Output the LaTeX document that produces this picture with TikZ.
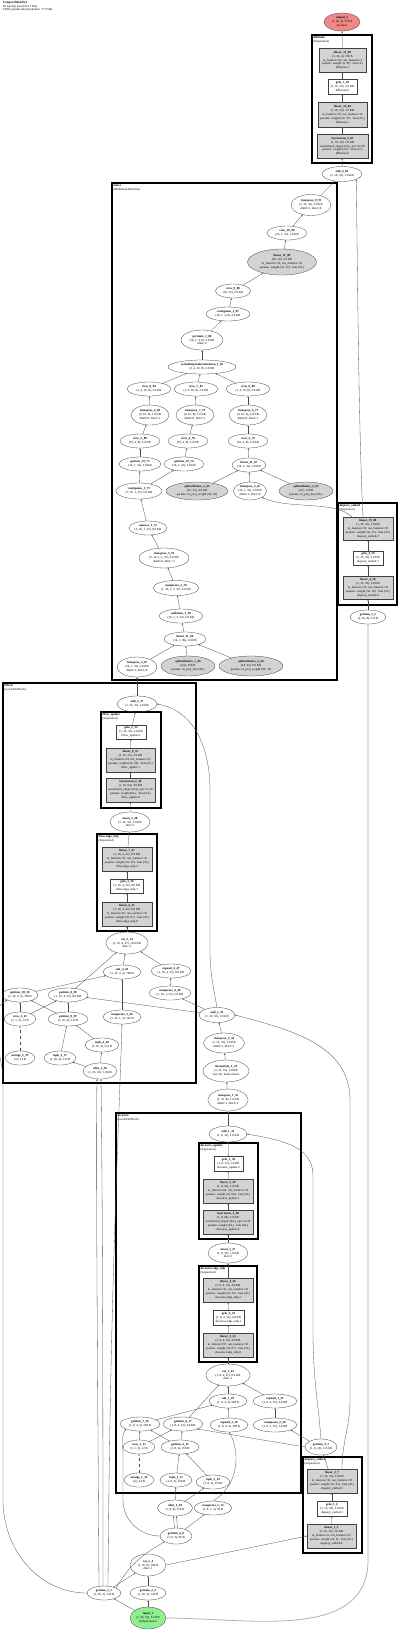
\documentclass[tikz,border=0pt]{standalone}
\usepackage{fontspec}
\setmainfont{Liberation Serif}
\usetikzlibrary{shapes.geometric,arrows.meta}
\newcommand{\fs}{\fontsize{3.1}{3.9}\selectfont}
\newcommand{\fsc}{\fontsize{3.1}{3.5}\selectfont}
\definecolor{lg}{RGB}{211,211,211}
\definecolor{outred}{RGB}{242,135,135}
\definecolor{ingreen}{RGB}{144,238,144}
\begin{document}
\begin{tikzpicture}[x=1pt,y=-1pt,
 every node/.style={font=\fs, align=center, inner sep=0pt, outer sep=0pt},
 el/.style 2 args={ellipse, draw=black!75, line width=0.3pt, minimum width=#1pt, minimum height=#2pt},
 gel/.style 2 args={el={#1}{#2}, fill=lg},
 bx/.style 2 args={rectangle, draw=black!75, line width=0.3pt, minimum width=#1pt, minimum height=#2pt, fill=white},
 gbx/.style 2 args={bx={#1}{#2}, fill=lg},
 cl/.style={draw=black, line width=1.1pt},
 cll/.style={anchor=north west, align=left, font=\fsc},
 e/.style={draw=black!70, line width=0.3pt, -{Stealth[length=1.8pt,width=1.4pt]}},
]
\useasboundingbox (0,0) rectangle (400,1631);
\fill[white] (0,0) rectangle (400,1631);
\node[cll] (hdr) at (3,1.5) {\textbf{CompactModelV2}\\56 layer(s) total (214.7 kB)\\19932 params total (trainable: 77.9 kB)};

% ---------- clusters ----------
\draw[cl] (312,35) rectangle (372,163);
\node[cll] (cdiff) at (313.5,36.5) {\textbf{diffusion}\\(Sequential)};
\draw[cl] (112,183) rectangle (337,680);
\node[cll] (cmix) at (113.5,184.5) {\textbf{mixer}\\(MultiheadAttention)};
\draw[cl] (338,503) rectangle (397,605);
\node[cll] (cdq) at (339.5,504.5) {\textbf{diquery\_embed}\\(Sequential)};
\draw[cl] (3,683) rectangle (196,1083);
\node[cll] (ctb) at (4.5,684.5) {\textbf{tblock}\\(LocalPairBlock)};
\draw[cl] (101,712) rectangle (161,808);
\node[cll] (ctu) at (102.5,713.5) {\textbf{tflow\_update}\\(Sequential)};
\draw[cl] (97,834) rectangle (157,931);
\node[cll] (cte) at (98.5,835.5) {\textbf{tflow.edge\_mlp}\\(Sequential)};
\draw[cl] (116,1113) rectangle (301,1493);
\node[cll] (cds) at (117.5,1114.5) {\textbf{dscoarse}\\(LocalPairBlock)};
\draw[cl] (199,1143) rectangle (258,1239);
\node[cll] (cdu) at (200.5,1144.5) {\textbf{dscoarse\_update}\\(Sequential)};
\draw[cl] (199,1266) rectangle (257,1362);
\node[cll] (cde) at (200.5,1267.5) {\textbf{dscoarse.edge\_mlp}\\(Sequential)};
\draw[cl] (303,1457) rectangle (362,1553);
\node[cll] (cdsq) at (304.5,1458.5) {\textbf{dsquery\_embed}\\(Sequential)};

% ---------- top ----------
\node[el={36}{18}, fill=outred] (out) at (342,22) {\textbf{output\_1}\\(1, 16, 4), 256 B\\@output};
\node[gbx={47}{24}] (l1590) at (342.5,60) {\textbf{linear\_15\_90}\\(1, 16, 4), 256 B\\in\_features=32, out\_features=4\\params: weight (4, 32) · bias (4,)\\diffusion.3};
\node[bx={29}{15}] (g785) at (342.5,86.5) {\textbf{gelu\_7\_85}\\(1, 16, 32), 2.0 KB\\diffusion.2};
\node[gbx={49}{25}] (l1484) at (342.5,114.5) {\textbf{linear\_14\_84}\\(1, 16, 32), 2.0 KB\\in\_features=32, out\_features=32\\params: weight (32, 32) · bias (32,)\\diffusion.1};
\node[gbx={51}{24}] (ln383) at (342.5,146) {\textbf{layernorm\_3\_83}\\(1, 16, 32), 2.0 KB\\normalized\_shape=(32,), eps=1e-05\\params: weight (32,) · bias (32,)\\diffusion.0};
\node[el={40}{15}] (a481) at (342,174) {\textbf{add\_4\_81}\\(1, 16, 32), 2.0 KB};

% ---------- mixer ----------
\node[el={40}{21}] (t991) at (311,205) {\textbf{transpose\_9\_91}\\(1, 16, 32), 2.0 KB\\dim0=1, dim1=0};
\node[el={40}{14}] (v1090) at (287,233) {\textbf{view\_10\_90}\\(16, 1, 32), 2.0 KB};
\node[gel={69}{26}] (l1189) at (282,262) {\textbf{linear\_11\_89}\\(16, 32), 2.0 KB\\in\_features=32, out\_features=32\\params: weight (32, 32) · bias (32,)};
\node[el={35}{14}] (v988) at (233,291) {\textbf{view\_9\_88}\\(16, 32), 2.0 KB};
\node[el={44}{14}] (c287) at (228,314) {\textbf{contiguous\_2\_87}\\(16, 1, 4, 8), 2.0 KB};
\node[el={42}{20}] (p186) at (202,340) {\textbf{permute\_1\_86}\\(16, 1, 4, 8), 2.0 KB\\dims=2};
\node[el={68}{14}] (sdpa) at (202,367) {\textbf{scaleddotproductattention\_1\_85}\\(1, 4, 16, 8), 2.0 KB};
\node[el={44}{14}] (v884) at (149,389) {\textbf{view\_8\_84}\\(1, 4, 16, 8), 2.0 KB};
\node[el={44}{14}] (v781) at (196,389) {\textbf{view\_7\_81}\\(1, 4, 16, 8), 2.0 KB};
\node[el={44}{14}] (v680) at (248,389) {\textbf{view\_6\_80}\\(1, 4, 16, 8), 2.0 KB};
\node[el={38}{20}] (t683) at (150,415) {\textbf{transpose\_6\_83}\\(4, 16, 8), 2.0 KB\\dim0=0, dim1=1};
\node[el={38}{20}] (t779) at (195,415) {\textbf{transpose\_7\_79}\\(4, 16, 8), 2.0 KB\\dim0=0, dim1=1};
\node[el={38}{20}] (t677) at (248,415) {\textbf{transpose\_6\_77}\\(4, 16, 8), 2.0 KB\\dim0=0, dim1=1};
\node[el={40}{14}] (v580) at (140,441) {\textbf{view\_5\_80}\\(16, 4, 8), 2.0 KB};
\node[el={40}{14}] (v478) at (188,441) {\textbf{view\_4\_78}\\(16, 4, 8), 2.0 KB};
\node[el={40}{14}] (v376) at (248,441) {\textbf{view\_3\_76}\\(16, 4, 8), 2.0 KB};
\node[el={42}{14}] (g3375) at (140,464) {\textbf{getitem\_33\_75}\\(16, 1, 32), 2.0 KB};
\node[el={40}{14}] (g3274) at (184,464) {\textbf{getitem\_32\_74}\\(16, 1, 32), 2.0 KB};
\node[el={34}{14}] (l1167) at (249,465) {\textbf{linear\_11\_67}\\(16, 1, 32), 2.0 KB};
\node[el={46}{16}] (c173) at (139,491) {\textbf{contiguous\_1\_73}\\(3, 16, 1, 32), 6.0 KB};
\node[gel={62}{18}] (sw163) at (197,491) {\textbf{splitwithsizes\_1\_63}\\(32, 32), 4.0 KB\\params: in\_proj\_weight (96, 32)};
\node[el={33}{18}] (t265) at (250,491) {\textbf{transpose\_2\_65}\\(16, 1, 32), 2.0 KB\\dim0=1, dim1=0};
\node[gel={54}{18}] (sw265) at (306,491) {\textbf{splitwithsizes\_2\_65}\\(32,), 128 B\\params: in\_proj\_bias (96,)};
\node[el={38}{14}] (sq172) at (148,528) {\textbf{squeeze\_1\_72}\\(3, 16, 1, 32), 6.0 KB};
\node[el={50}{20}] (t376) at (164,558) {\textbf{transpose\_3\_76}\\(3, 16, 1, 1, 32), 6.0 KB\\dim0=0, dim1=-2};
\node[el={46}{15}] (u270) at (176,588) {\textbf{unsqueeze\_2\_70}\\(1, 16, 1, 3, 32), 6.0 KB};
\node[el={44}{14}] (uf169) at (181,616) {\textbf{unflatten\_1\_69}\\(16, 1, 3, 32), 6.0 KB};
\node[el={42}{14}] (l1166) at (185,639) {\textbf{linear\_11\_66}\\(16, 1, 96), 6.0 KB};
\node[el={40}{20}] (t467) at (137,667) {\textbf{transpose\_4\_67}\\(16, 1, 32), 2.0 KB\\dim0=1, dim1=0};
\node[gel={54}{20}] (sw166) at (188,666) {\textbf{splitwithsizes\_1\_66}\\(64,), 256 B\\params: in\_proj\_bias (96,)};
\node[gel={64}{20}] (sw264) at (251,666) {\textbf{splitwithsizes\_2\_64}\\(64, 32), 8.0 KB\\params: in\_proj\_weight (96, 32)};

% ---------- diquery_embed ----------
\node[gbx={50}{23}] (l1988) at (368,528.5) {\textbf{linear\_19\_88}\\(1, 16, 32), 2.0 KB\\in\_features=32, out\_features=32\\params: weight (32, 32) · bias (32,)\\diquery\_embed.2};
\node[bx={30}{14}] (g459) at (368,558) {\textbf{gelu\_4\_59}\\(1, 16, 32), 2.0 KB\\diquery\_embed.1};
\node[gbx={50}{23}] (l458) at (368,588) {\textbf{linear\_4\_58}\\(1, 16, 32), 2.0 KB\\in\_features=16, out\_features=32\\params: weight (32, 16) · bias (32,)\\diquery\_embed.0};
\node[el={36}{14}] (g15) at (368,617) {\textbf{getitem\_1\_5}\\(1, 16, 8), 512 B};

% ---------- tblock ----------
\node[el={40}{16}] (a337) at (137,704) {\textbf{add\_3\_37}\\(1, 16, 32), 2.0 KB};
\node[bx={30}{14}] (g232) at (131,732) {\textbf{gelu\_2\_32}\\(1, 16, 32), 2.0 KB\\tflow\_update.2};
\node[gbx={49}{24}] (l631) at (130.5,760) {\textbf{linear\_6\_31}\\(1, 16, 32), 2.0 KB\\in\_features=64, out\_features=32\\params: weight (32, 64) · bias (32,)\\tflow\_update.1};
\node[gbx={49}{24}] (ln230) at (130.5,790) {\textbf{layernorm\_2\_30}\\(1, 16, 64), 4.0 KB\\normalized\_shape=(64,), eps=1e-05\\params: weight (64,) · bias (64,)\\tflow\_update.0};
\node[el={40}{20}] (m228) at (130,822) {\textbf{mean\_2\_28}\\(1, 16, 32), 2.0 KB\\dim=2};
\node[gbx={50}{24}] (l727) at (127,859) {\textbf{linear\_7\_27}\\(1, 16, 4, 32), 8.0 KB\\in\_features=32, out\_features=32\\params: weight (32, 32) · bias (32,)\\tflow.edge\_mlp.2};
\node[bx={33}{14}] (g326) at (127,886) {\textbf{gelu\_3\_26}\\(1, 16, 4, 32), 8.0 KB\\tflow.edge\_mlp.1};
\node[gbx={50}{24}] (l625) at (127,914) {\textbf{linear\_6\_25}\\(1, 16, 4, 32), 8.0 KB\\in\_features=67, out\_features=32\\params: weight (32, 67) · bias (32,)\\tflow.edge\_mlp.0};
\node[el={42}{22}] (c224) at (127,943) {\textbf{cat\_2\_24}\\(1, 16, 4, 67), 16.8 KB\\dim=-1};
\node[el={38}{14}] (s443) at (122,972) {\textbf{sub\_4\_43}\\(1, 16, 4, 3), 768 B};
\node[el={40}{14}] (e447) at (171,971) {\textbf{expand\_4\_47}\\(1, 16, 4, 32), 8.0 KB};
\node[el={36}{14}] (g1036) at (20,995) {\textbf{getitem\_10\_36}\\(1, 16, 4, 3), 768 B};
\node[el={40}{14}] (g838) at (68,995) {\textbf{getitem\_8\_38}\\(1, 16, 4, 32), 8.0 KB};
\node[el={42}{14}] (u446) at (170,993) {\textbf{unsqueeze\_4\_46}\\(1, 16, 1, 32), 2.0 KB};
\node[el={32}{14}] (v241) at (20,1019) {\textbf{view\_2\_41}\\(1, 1, 3), 12 B};
\node[el={40}{14}] (g939) at (68,1019) {\textbf{getitem\_9\_39}\\(1, 16, 4), 512 B};
\node[el={38}{14}] (u344) at (122,1017) {\textbf{unsqueeze\_3\_44}\\(1, 16, 1, 3), 192 B};
\node[el={30}{14}] (ar233) at (20,1058) {\textbf{arange\_2\_33}\\(3,), 24 B};
\node[el={32}{14}] (tk337) at (60,1058) {\textbf{topk\_3\_37}\\(1, 16, 4), 512 B};
\node[el={34}{14}] (tk440) at (102,1045) {\textbf{topk\_4\_40}\\(1, 16, 4), 512 B};
\node[el={34}{16}] (cd236) at (100,1071) {\textbf{cdist\_2\_36}\\(1, 16, 16), 1.0 KB};

% ---------- middle ----------
\node[el={36}{15}] (a235) at (217,1015) {\textbf{add\_2\_35}\\(1, 16, 32), 2.0 KB};
\node[el={41}{20}] (t234) at (224,1043) {\textbf{transpose\_2\_34}\\(1, 16, 32), 2.0 KB\\dim0=1, dim1=2};
\node[el={46}{22}] (ip133) at (226,1071) {\textbf{interpolate\_1\_33}\\(1, 32, 16), 2.0 KB\\size=16, mode=linear};
\node[el={40}{22}] (t132) at (228,1100) {\textbf{transpose\_1\_32}\\(1, 32, 8), 1.0 KB\\dim0=1, dim1=2};

% ---------- dscoarse ----------
\node[el={38}{16}] (a131) at (228,1134) {\textbf{add\_1\_31}\\(1, 8, 32), 1.0 KB};
\node[bx={29}{15}] (g330) at (228.5,1163.5) {\textbf{gelu\_3\_30}\\(1, 8, 32), 1.0 KB\\dscoarse\_update.2};
\node[gbx={50}{24}] (l529) at (228,1191) {\textbf{linear\_5\_29}\\(1, 8, 32), 1.0 KB\\in\_features=64, out\_features=32\\params: weight (32, 64) · bias (32,)\\dscoarse\_update.1};
\node[gbx={50}{24}] (ln128) at (228,1222) {\textbf{layernorm\_1\_28}\\(1, 8, 64), 2.0 KB\\normalized\_shape=(64,), eps=1e-05\\params: weight (64,) · bias (64,)\\dscoarse\_update.0};
\node[el={40}{20}] (m127) at (228,1253) {\textbf{mean\_1\_27}\\(1, 8, 32), 1.0 KB\\dim=2};
\node[gbx={50}{24}] (l426) at (228,1290) {\textbf{linear\_4\_26}\\(1, 8, 4, 32), 4.0 KB\\in\_features=32, out\_features=32\\params: weight (32, 32) · bias (32,)\\dscoarse.edge\_mlp.2};
\node[bx={31}{15}] (g225) at (228.5,1317.5) {\textbf{gelu\_2\_25}\\(1, 8, 4, 32), 4.0 KB\\dscoarse.edge\_mlp.1};
\node[gbx={50}{24}] (l324) at (228,1345) {\textbf{linear\_3\_24}\\(1, 8, 4, 32), 4.0 KB\\in\_features=67, out\_features=32\\params: weight (32, 67) · bias (32,)\\dscoarse.edge\_mlp.0};
\node[el={44}{22}] (c123) at (228,1375) {\textbf{cat\_1\_23}\\(1, 8, 4, 67), 8.4 KB\\dim=-1};
\node[el={38}{14}] (s122) at (228,1401) {\textbf{sub\_1\_22}\\(1, 8, 4, 3), 384 B};
\node[el={44}{14}] (e121) at (275,1401) {\textbf{expand\_1\_21}\\(1, 8, 4, 32), 4.0 KB};
\node[el={40}{14}] (g716) at (140,1424) {\textbf{getitem\_7\_16}\\(1, 8, 4, 3), 384 B};
\node[el={40}{14}] (g817) at (183,1424) {\textbf{getitem\_8\_17}\\(1, 8, 4, 32), 4.0 KB};
\node[el={38}{14}] (e219) at (229,1425) {\textbf{expand\_2\_19}\\(1, 8, 4, 3), 384 B};
\node[el={44}{14}] (u220) at (275,1425) {\textbf{unsqueeze\_2\_20}\\(1, 8, 1, 32), 1.0 KB};
\node[el={32}{14}] (v115) at (139,1447) {\textbf{view\_1\_15}\\(1, 1, 3), 12 B};
\node[el={38}{14}] (g615) at (180,1447) {\textbf{getitem\_6\_15}\\(1, 8, 4), 256 B};
\node[el={30}{14}] (ar114) at (139,1480) {\textbf{arange\_1\_14}\\(3,), 24 B};
\node[el={32}{14}] (tk111) at (176,1480) {\textbf{topk\_1\_11}\\(1, 8, 4), 256 B};
\node[el={34}{14}] (tk212) at (213,1482) {\textbf{topk\_2\_12}\\(1, 8, 4), 256 B};
\node[el={32}{16}] (g33) at (321,1447) {\textbf{getitem\_3\_3}\\(1, 8, 32), 1.0 KB};
\node[gbx={50}{24}] (l27) at (332,1481) {\textbf{linear\_2\_7}\\(1, 16, 32), 2.0 KB\\in\_features=32, out\_features=32\\params: weight (32, 32) · bias (32,)\\dsquery\_embed.2};
\node[bx={30}{15}] (g16) at (332,1508.5) {\textbf{gelu\_1\_6}\\(1, 16, 32), 2.0 KB\\dsquery\_embed.1};
\node[gbx={49}{24}] (l15) at (331.5,1536) {\textbf{linear\_1\_5}\\(1, 16, 32), 2.0 KB\\in\_features=6, out\_features=32\\params: weight (32, 6) · bias (32,)\\dsquery\_embed.0};

% ---------- bottom ----------
\node[el={35}{16}] (cd110) at (175,1508) {\textbf{cdist\_1\_10}\\(1, 8, 8), 256 B};
\node[el={38}{14}] (u113) at (213,1508) {\textbf{unsqueeze\_1\_13}\\(1, 8, 1, 3), 96 B};
\node[el={32}{16}] (g49) at (176,1536) {\textbf{getitem\_4\_9}\\(1, 8, 3), 96 B};
\node[el={36}{22}] (c14) at (148,1565) {\textbf{cat\_1\_4}\\(1, 16, 6), 384 B\\dim=-1};
\node[el={36}{14}] (g22) at (148,1593) {\textbf{getitem\_2\_2}\\(1, 16, 3), 192 B};
\node[el={34}{14}] (g11) at (104,1593) {\textbf{getitem\_1\_1}\\(1, 16, 3), 192 B};
\node[el={36}{22}, fill=ingreen] (in1) at (148,1618) {\textbf{input\_1}\\(1, 16, 51), 3.2 KB\\@input-tensor};

% ---------- edges: top ----------
\draw[e] (l1590) -- (out);
\draw[e] (g785) -- (l1590);
\draw[e] (l1484) -- (g785);
\draw[e] (ln383) -- (l1484);
\draw[e] (a481) -- (ln383);
\draw[e] (t991) -- (a481);
\draw[e] ([xshift=-5pt]l1988.north) .. controls (358,420) and (357,200) .. (a481.south east);
\draw[e] ([xshift=-16pt]l1988.north) .. controls (335,500) and (290,510) .. (t265.south east);
% mixer
\draw[e] (v1090) -- (t991);
\draw[e] (l1189) -- (v1090);
\draw[e] (v988) -- (l1189);
\draw[e] (c287) -- (v988);
\draw[e] (p186) -- (c287);
\draw[e] (sdpa) -- (p186);
\draw[e] (v884) -- (sdpa);
\draw[e] (v781) -- (sdpa);
\draw[e] (v680) -- (sdpa);
\draw[e] (t683) -- (v884);
\draw[e] (t779) -- (v781);
\draw[e] (t677) -- (v680);
\draw[e] (v580) -- (t683);
\draw[e] (v478) -- (t779);
\draw[e] (v376) -- (t677);
\draw[e] (g3375) -- (v580);
\draw[e] (g3274) -- (v478);
\draw[e] (l1167) -- (v376);
\draw[e] (sw163) -- (l1167);
\draw[e] (t265) -- (l1167);
\draw[e] (sw265) -- (l1167);
\draw[e] (c173) -- (g3375);
\draw[e] (c173) -- (g3274);
\draw[e] (sq172) -- (c173);
\draw[e] (t376) -- (sq172);
\draw[e] (u270) -- (t376);
\draw[e] (uf169) -- (u270);
\draw[e] (l1166) -- (uf169);
\draw[e] (t467) -- (l1166);
\draw[e] (sw166) -- (l1166);
\draw[e] (sw264) -- (l1166);
% diquery
\draw[e] (g459) -- (l1988);
\draw[e] (l458) -- (g459);
\draw[e] (g15) -- (l458);
\draw[e, draw=black!30, line width=0.8pt] (in1.east) to[out=0,in=-90] (368,1560) -- (g15.south);
% tblock
\draw[e] (a337) -- (t467);
\draw[e] (g232) -- (a337);
\draw[e] (l631) -- (g232);
\draw[e] (ln230) -- (l631);
\draw[e] (m228) -- (ln230);
\draw[e] (l727) -- (m228);
\draw[e] (g326) -- (l727);
\draw[e] (l625) -- (g326);
\draw[e] (c224) -- (l625);
\draw[e] (s443) -- (c224);
\draw[e] (e447) -- (c224);
\draw[e] (g838) -- (c224);
\draw[e] (u446) -- (e447);
\draw[e] (g1036) -- (s443);
\draw[e] (u344) -- (s443);
\draw[e] (v241) -- (g1036);
\draw[e] (v241) -- (g838);
\draw[e] (g939) -- (g1036);
\draw[e] (g939) -- (g838);
\draw[e, dashed] (ar233) -- (v241);
\draw[e] (tk337) -- (g939);
\draw[e] (tk440) -- (g939);
\draw[e] (cd236) -- (tk337);
\draw[e] (cd236) -- (tk440);
\draw[e] (a235.north) to[out=100,in=-90] (210,950) -- (210,790) to[out=90,in=-10] (a337.east);
\draw[e] (a235) -- (u446);
\draw[e] (a235) -- (g838);
% middle
\draw[e] (t234) -- (a235);
\draw[e] (ip133) -- (t234);
\draw[e] (t132) -- (ip133);
\draw[e] (a131) -- (t132);
\draw[e] ([xshift=10pt]l27.north) to[out=90,in=-90] (350,1400) -- (350,1100) to[out=90,in=-15] (a235.east);
% dscoarse
\draw[e] (g330) -- (a131);
\draw[e] (l529) -- (g330);
\draw[e] (ln128) -- (l529);
\draw[e] (m127) -- (ln128);
\draw[e] (l426) -- (m127);
\draw[e] (g225) -- (l426);
\draw[e] (l324) -- (g225);
\draw[e] (c123) -- (l324);
\draw[e] (s122) -- (c123);
\draw[e] (e121) -- (c123);
\draw[e] (g817) -- (c123);
\draw[e] (u220) -- (e121);
\draw[e] (e219) -- (s122);
\draw[e] (g716) -- (s122);
\draw[e] (v115) -- (g716);
\draw[e] (v115) -- (g817);
\draw[e] (g615) -- (g716);
\draw[e] (g615) -- (g817);
\draw[e, dashed] (ar114) -- (v115);
\draw[e] (tk111) -- (g615);
\draw[e] (tk212) -- (g615);
\draw[e] (cd110) -- (tk111);
\draw[e] (cd110) -- (tk212);
\draw[e] (u113.north) .. controls (240,1485) and (240,1450) .. (e219.south);
\draw[e] (g33.north) .. controls (318,1400) and (313,1380) .. (313,1330) -- (313,1175) to[out=90,in=-10] (a131.east);
\draw[e] (g33.north west) -- (u220.south east);
\draw[e] (g33.west) -- (g817.south east);
\draw[e] (l27) -- (g33);
\draw[e] (g16) -- (l27);
\draw[e] (l15) -- (g16);
\draw[e] (c14.east) -- (l15.west);
% bottom
\draw[e] ([xshift=-1.5pt]g49.north) -- ([xshift=-1.5pt]cd110.south);
\draw[e] ([xshift=1.5pt]g49.north) -- ([xshift=1.5pt]cd110.south);
\draw[e] (g49) -- (u113);
\draw[e] (g49.west) to[out=180,in=-90] (123,1500) -- (123,1455) to[out=90,in=-120] (g716.south west);
\draw[e] (g11.north east) to[out=60,in=-150] (g49.south west);
\draw[e] (g11) -- (c14);
\draw[e] (g22) -- (c14);
\draw[e] (in1) -- (g22);
\draw[e] (in1) -- (g11);
\draw[e] ([xshift=-5pt]g11.north) .. controls (97,1300) and (96,1150) .. ([xshift=-3pt]cd236.south);
\draw[e] ([xshift=-1pt]g11.north) .. controls (103,1300) and (102,1150) .. ([xshift=1pt]cd236.south);
\draw[e] ([xshift=4pt]g11.north) .. controls (110,1300) and (118,1150) .. (u344.south);
\draw[e] (g11.west) to[out=180,in=-90] (3,1500) -- (3,1080) to[out=90,in=-150] (g1036.south west);
\end{tikzpicture}
\end{document}
